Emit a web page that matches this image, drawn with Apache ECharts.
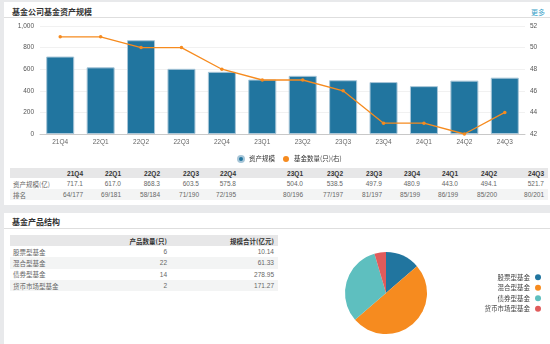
<!DOCTYPE html>
<html><head><meta charset="utf-8">
<script src="https://cdn.jsdelivr.net/npm/echarts@6/dist/echarts.min.js"></script>
<style>
body{margin:0;width:550px;height:344px;background:#e8e9eb;position:relative;overflow:hidden;font-family:"Liberation Sans","Noto Sans CJK SC",sans-serif;color:#444;}
.panel{position:absolute;background:#fff;left:4px;width:546px;}
.title{position:absolute;left:8px;font-size:8px;font-weight:bold;color:#333;font-family:"Noto Sans CJK SC",sans-serif;}
.sep{position:absolute;left:0;width:546px;height:1px;background:#dedede;}
.more{position:absolute;right:5px;font-size:7px;color:#3aa3c9;font-family:"Noto Sans CJK SC",sans-serif;}
table{position:absolute;border-collapse:collapse;table-layout:fixed;font-size:6.5px;}
td,th{padding:0;white-space:nowrap;overflow:visible;}
th{font-weight:bold;color:#333;}
tr.h{background:#e7e7e8;}
tr.alt{background:#f3f4f4;}
td.l{text-align:left;padding-left:3px;font-family:"Noto Sans CJK SC",sans-serif;color:#666;}
td.r,th.r{text-align:right;color:#666;}
th.r{color:#333;}
#chart{position:absolute;left:0;top:0;width:550px;height:344px;z-index:5;}
</style></head>
<body>
<div class="panel" style="top:2px;height:203px;">
  <div class="title" style="top:4px;">基金公司基金资产规模</div>
  <div class="more" style="top:5px;">更多</div>
  <div class="sep" style="top:15px;"></div>
</div>
<div class="panel" style="top:213px;height:131px;">
  <div class="title" style="top:3px;">基金产品结构</div>
  <div class="sep" style="top:15px;"></div>
</div>
<table id="t1" style="left:10px;top:168px;width:538px;"></table>
<table id="t2" style="left:10px;top:235px;width:268px;"></table>
<div id="chart"></div>
<script>
// ---- data ----
const quarters = ['21Q4','22Q1','22Q2','22Q3','22Q4','23Q1','23Q2','23Q3','23Q4','24Q1','24Q2','24Q3'];
const assetScale = [717.1,617.0,868.3,603.5,575.8,504.0,538.5,497.9,480.9,443.0,494.1,521.7];
const fundCount = [51,51,50,50,48,47,47,46,43,43,42,44];
const ranks = ['64/177','69/181','58/184','71/190','72/195','80/196','77/197','81/197','85/199','86/199','85/200','80/201'];
const leftTicks = [0,200,400,600,800,1000];
const rightTicks = [42,44,46,48,50,52];
const fundTypes = ['股票型基金','混合型基金','债券型基金','货币市场型基金'];
const typeCounts = [6,22,14,2];
const typeScales = ['10.14','61.33','278.95','171.27'];

// ---- table 1 ----
const colRights = [83,121,160,199,236,303,343,382,420,458,497,544];
(function(){
  const t = document.getElementById('t1');
  let cg = '<colgroup><col style="width:50px">';
  let prev = 60;
  colRights.forEach((r,i)=>{ const w = (i===colRights.length-1) ? (548-prev) : (r-prev); cg += '<col style="width:'+w+'px">'; prev = r; });
  cg += '</colgroup>';
  const pr = (i)=> i===colRights.length-1 ? 'padding-right:4px;' : '';
  let h = '<tr class="h" style="height:10px"><th></th>' + quarters.map((q,i)=>'<th class="r" style="'+pr(i)+'">'+q+'</th>').join('') + '</tr>';
  h += '<tr style="height:11px"><td class="l">资产规模(亿)</td>' + assetScale.map((v,i)=>'<td class="r" style="'+pr(i)+'">'+v.toFixed(1)+'</td>').join('') + '</tr>';
  h += '<tr class="alt" style="height:11px"><td class="l">排名</td>' + ranks.map((v,i)=>'<td class="r" style="'+pr(i)+'">'+v+'</td>').join('') + '</tr>';
  t.innerHTML = cg + h;
})();
// ---- table 2 ----
(function(){
  const t = document.getElementById('t2');
  let h = '<colgroup><col style="width:100px"><col style="width:57px"><col style="width:111px"></colgroup>';
  h += '<tr class="h" style="height:11px"><th></th><th class="r" style="font-family:Noto Sans CJK SC;">产品数量(只)</th><th class="r" style="padding-right:4px;font-family:Noto Sans CJK SC;">规模合计(亿元)</th></tr>';
  fundTypes.forEach((n,i)=>{
    h += '<tr class="'+(i%2===1?'alt':'')+'" style="height:11.3px"><td class="l">'+n+'</td><td class="r">'+typeCounts[i]+'</td><td class="r" style="padding-right:4px">'+typeScales[i]+'</td></tr>';
  });
  t.innerHTML = h;
})();

// ---- chart ----
const ff = '"Liberation Sans","Noto Sans CJK SC",sans-serif';
const chart = echarts.init(document.getElementById('chart'), null, {renderer:'canvas'});
chart.setOption({
  animation:false,
  textStyle:{fontFamily:ff},
  color:['#21759f','#f68b1f'],
  grid:{left:40, top:26, width:485, height:108},
  legend:[{
    data:['资产规模','基金数量(只)(右)'],
    top:150, left:232, itemWidth:6, itemHeight:6, itemGap:8, icon:'circle',
    textStyle:{fontSize:6.5, color:'#333', fontFamily:'"Noto Sans CJK SC",sans-serif'}
  },{
    data:fundTypes, orient:'vertical', right:4, top:269, align:'right', itemGap:4,
    itemWidth:6, itemHeight:6, icon:'circle',
    textStyle:{fontSize:6.5, color:'#444', fontFamily:'"Noto Sans CJK SC",sans-serif'}
  }],
  xAxis:{type:'category', data:quarters, axisTick:{show:false},
    axisLine:{lineStyle:{color:'#c8c8c8'}},
    axisLabel:{fontSize:6.5, color:'#666', margin:5}},
  yAxis:[{type:'value', min:leftTicks[0], max:leftTicks[leftTicks.length-1], interval:200,
    axisLabel:{fontSize:6.5, color:'#555', margin:6, formatter:v=>v.toLocaleString('en-US')},
    splitLine:{lineStyle:{color:'#f1f1f1'}}, axisLine:{show:false}, axisTick:{show:false}},
   {type:'value', min:rightTicks[0], max:rightTicks[rightTicks.length-1], interval:2, position:'right',
    axisLabel:{fontSize:6.5, color:'#555', margin:5},
    splitLine:{show:false}, axisLine:{show:false}, axisTick:{show:false}}],
  series:[{
    name:'资产规模', type:'bar', data:assetScale, barWidth:28,
    itemStyle:{color:'#21759f', borderColor:'#a8c6d8', borderWidth:1}
  },{
    name:'基金数量(只)(右)', type:'line', yAxisIndex:1, data:fundCount,
    symbol:'circle', symbolSize:3.5, lineStyle:{width:1.3, color:'#f68b1f'},
    itemStyle:{color:'#f68b1f'}
  },{
    name:'结构', type:'pie', center:[386,293], radius:41, startAngle:90, clockwise:true,
    label:{show:false}, labelLine:{show:false},
    data:fundTypes.map((n,i)=>({name:n, value:typeCounts[i]})),
    color:['#21759f','#f68b1f','#5ebfbf','#e05b5b'],
    itemStyle:{borderWidth:0}
  }]
});
</script>
</body></html>
